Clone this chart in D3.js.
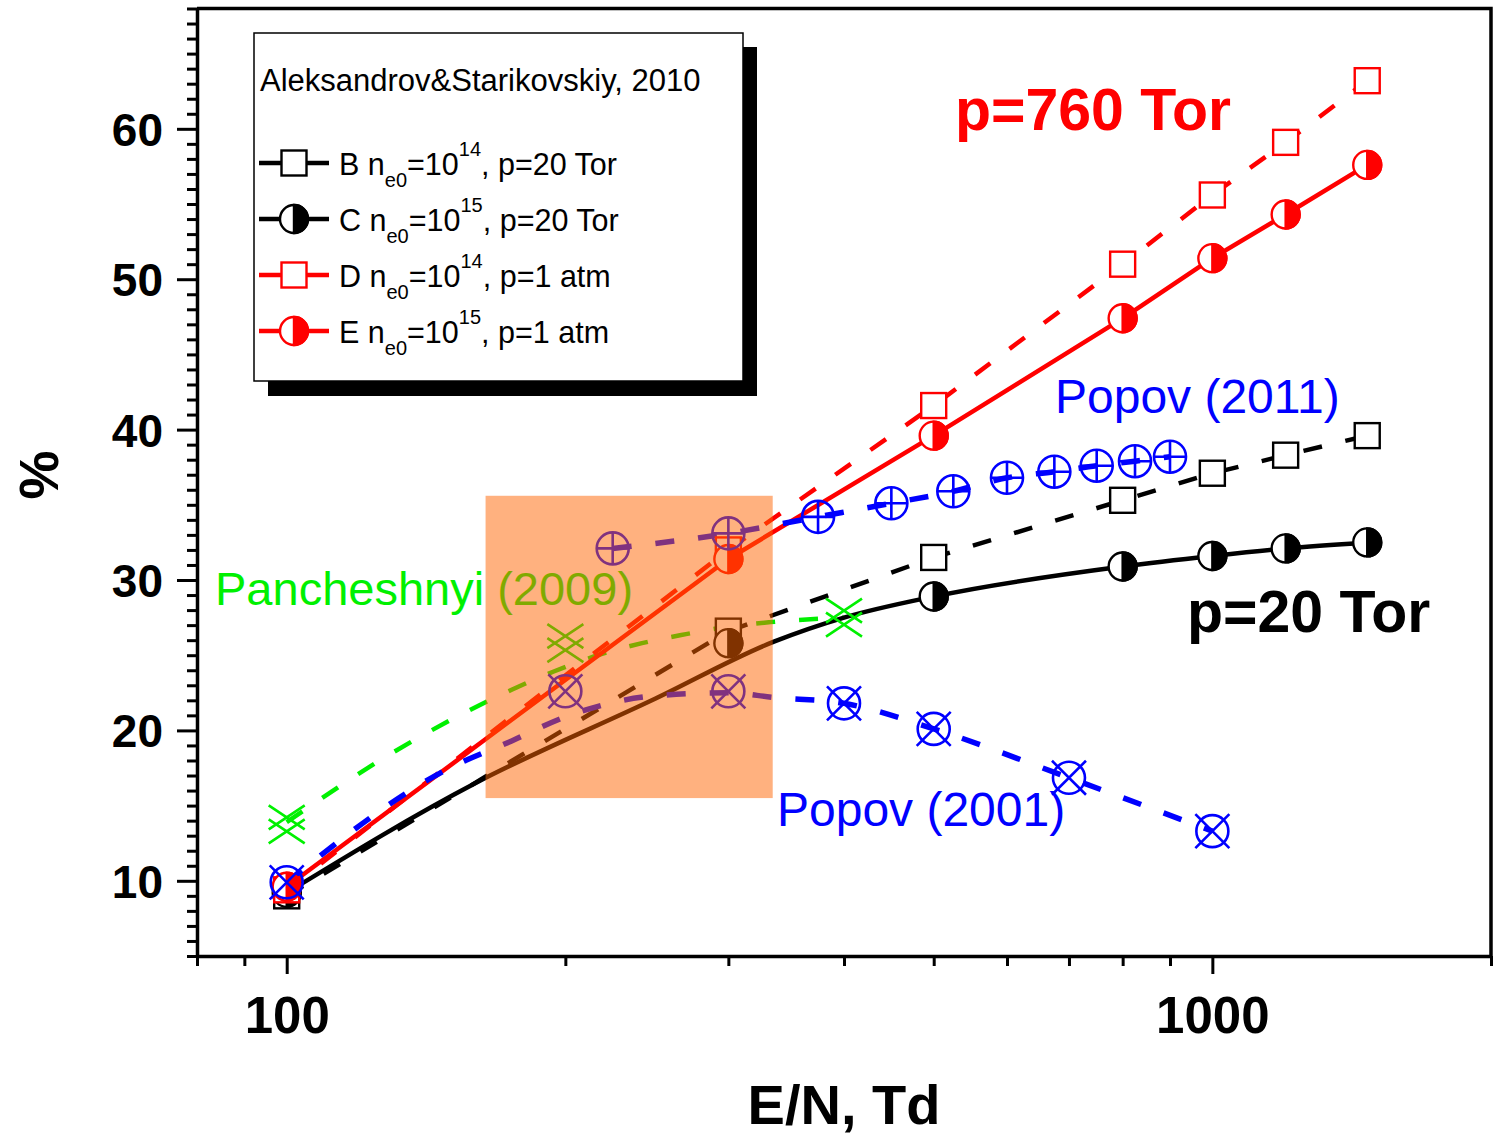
<!DOCTYPE html>
<html>
<head>
<meta charset="utf-8">
<script src="https://cdn.jsdelivr.net/npm/d3@7"></script>
<style>
  html, body { margin: 0; padding: 0; background: #fff; }
  svg { display: block; font-family: "Liberation Sans", Arial, sans-serif; }
</style>
</head>
<body>
<svg id="chart" width="1493" height="1138"></svg>
<script>
// ---------------- DATA ----------------
// Aleksandrov & Starikovskiy 2010 (E/N in Td, value in %)
const asEN      = [100, 300, 500, 800, 1000, 1200, 1470];
const seriesB   = [9.0, 26.6, 31.5, 35.3, 37.1, 38.3, 39.6];   // n_e0=1e14, 20 Tor
const seriesC   = [9.2, 25.8, 28.9, 30.9, 31.6, 32.1, 32.5];   // n_e0=1e15, 20 Tor
const seriesD   = [9.4, 32.0, 41.6, 51.0, 55.6, 59.1, 63.2];   // n_e0=1e14, 1 atm
const seriesE   = [9.6, 31.4, 39.6, 47.4, 51.4, 54.3, 57.6];   // n_e0=1e15, 1 atm
// smoothed curve drawn for series C
const curveC_EN = [100, 160, 250, 336, 400, 500, 800, 1000, 1200, 1470];
const curveC    = [9.2, 16.5, 22.1, 25.9, 27.5, 28.9, 30.9, 31.6, 32.1, 32.5];

// Popov (2011)
const popov2011EN = [225, 300, 375, 450, 525, 600, 675, 750, 825, 900];
const popov2011   = [32.1, 33.1, 34.2, 35.1, 35.9, 36.8, 37.2, 37.6, 37.9, 38.2];

// Popov (2001)
const popov2001EN = [100, 200, 300, 400, 500, 700, 1000];
const popov2001   = [9.9, 22.6, 22.6, 21.8, 20.1, 16.85, 13.3];
const popov2001CurveEN = [100, 150, 175, 200, 250, 300, 335, 400, 500, 700, 1000];
const popov2001Curve   = [9.9, 17.5, 19.3, 20.9, 22.3, 22.5, 22.2, 21.8, 20.1, 16.85, 13.3];

// Pancheshnyi (2009)
const panchEN = [100, 200, 400];
const panch   = [13.75, 25.8, 27.5];
const panchCurveEN = [100, 130, 175, 194, 217, 242, 270, 300, 333, 400];
const panchCurve   = [13.9, 18.5, 22.7, 23.9, 25.0, 25.8, 26.4, 26.9, 27.2, 27.5];

// highlighted region (E/N range, % range)
const regionEN  = [164, 335];
const regionPct = [15.5, 35.6];

// axes ticks
const xTickValues = [80, 90, 100, 200, 300, 400, 500, 600, 700, 800, 900, 1000, 2000];
const xTickLabels = [100, 1000];
const yTickValues = d3.range(5, 69);
const yTickLabels = [10, 20, 30, 40, 50, 60];

// legend
const legendTitle = "Aleksandrov&Starikovskiy, 2010";
const legendRows = [
  {letter: "B", exp: "14", tail: ", p=20 Tor", color: "#000", dashed: true,  marker: "square"},
  {letter: "C", exp: "15", tail: ", p=20 Tor", color: "#000", dashed: false, marker: "half"},
  {letter: "D", exp: "14", tail: ", p=1 atm",  color: "#f00", dashed: true,  marker: "square"},
  {letter: "E", exp: "15", tail: ", p=1 atm",  color: "#f00", dashed: false, marker: "half"}
];

// ---------------- CHART ----------------
const svg = d3.select("#chart");
const FONT = '"Liberation Sans", Arial, sans-serif';
const GREEN = "#00f000";
const L = 197, R = 1491, T = 8.5, B = 956;

const x = d3.scaleLog().domain([80, 2000]).range([L, R]);
const y = d3.scaleLinear().domain([5, 68]).range([B, T]);

const zip = (xs, ys) => xs.map((v, i) => ({x: v, y: ys[i]}));

const gData = svg.append("g");

function drawLine(pts, color, dashed, curve, width) {
  const line = d3.line().x(d => x(d.x)).y(d => y(d.y)).curve(curve || d3.curveLinear);
  gData.append("path").datum(pts)
    .attr("d", line)
    .attr("fill", "none")
    .attr("stroke", color)
    .attr("stroke-width", width || 4.5)
    .attr("stroke-dasharray", dashed ? "19,24" : null)
    .attr("stroke-linejoin", "round");
}

function markerSquare(g, cx, cy, color) {
  g.append("rect").attr("x", cx - 12.5).attr("y", cy - 12.5)
    .attr("width", 25).attr("height", 25)
    .attr("fill", "#fff").attr("stroke", color).attr("stroke-width", 2.4);
}
function markerHalf(g, cx, cy, color) {
  const r = 14;
  g.append("circle").attr("cx", cx).attr("cy", cy).attr("r", r)
    .attr("fill", "#fff").attr("stroke", color).attr("stroke-width", 2.4);
  g.append("path")
    .attr("d", `M${cx},${cy - r} A${r},${r} 0 0 1 ${cx},${cy + r} Z`)
    .attr("fill", color).attr("stroke", color).attr("stroke-width", 2.4);
}
function markerOplus(g, cx, cy, color) {
  const r = 16;
  g.append("circle").attr("cx", cx).attr("cy", cy).attr("r", r)
    .attr("fill", "none").attr("stroke", color).attr("stroke-width", 2.6);
  g.append("path")
    .attr("d", `M${cx - r},${cy} H${cx + r} M${cx},${cy - r} V${cy + r}`)
    .attr("stroke", color).attr("stroke-width", 2.6);
}
function markerOtimes(g, cx, cy, color) {
  const r = 16, k = 17;
  g.append("circle").attr("cx", cx).attr("cy", cy).attr("r", r)
    .attr("fill", "none").attr("stroke", color).attr("stroke-width", 2.6);
  g.append("path")
    .attr("d", `M${cx - k},${cy - k} L${cx + k},${cy + k} M${cx - k},${cy + k} L${cx + k},${cy - k}`)
    .attr("stroke", color).attr("stroke-width", 2.6);
}
function markerDoubleX(g, cx, cy, color) {
  const w = 18, h = 12, off = 7;
  let d = "";
  [-off, off].forEach(o => {
    d += `M${cx - w},${cy + o - h} L${cx + w},${cy + o + h} M${cx - w},${cy + o + h} L${cx + w},${cy + o - h} `;
  });
  g.append("path").attr("d", d).attr("fill", "none")
    .attr("stroke", color).attr("stroke-width", 2.6);
}

// ---- lines ----
drawLine(zip(panchCurveEN, panchCurve), GREEN, true, d3.curveMonotoneX, 4.5);
drawLine(zip(asEN, seriesB), "#000", true, d3.curveLinear, 4.5);
drawLine(zip(curveC_EN, curveC), "#000", false, d3.curveMonotoneX, 4.5);
drawLine(zip(asEN, seriesD), "#f00", true, d3.curveLinear, 4.5);
drawLine(zip(asEN, seriesE), "#f00", false, d3.curveLinear, 4.5);
drawLine(zip(popov2011EN, popov2011), "#0000ff", true, d3.curveMonotoneX, 5.5);
drawLine(zip(popov2001CurveEN, popov2001Curve), "#0000ff", true, d3.curveMonotoneX, 5.5);

// ---- markers ----
const gm = gData.append("g");
zip(asEN, seriesB).forEach(d => markerSquare(gm, x(d.x), y(d.y), "#000"));
zip(asEN, seriesC).forEach(d => markerHalf(gm, x(d.x), y(d.y), "#000"));
zip(asEN, seriesD).forEach(d => markerSquare(gm, x(d.x), y(d.y), "#f00"));
zip(asEN, seriesE).forEach(d => markerHalf(gm, x(d.x), y(d.y), "#f00"));
zip(panchEN, panch).forEach(d => markerDoubleX(gm, x(d.x), y(d.y), GREEN));
zip(popov2011EN, popov2011).forEach(d => markerOplus(gm, x(d.x), y(d.y), "#0000ff"));
zip(popov2001EN, popov2001).forEach(d => markerOtimes(gm, x(d.x), y(d.y), "#0000ff"));

// ---- annotations ----
const ann = svg.append("g").attr("font-family", FONT);
ann.append("text").attr("x", 955).attr("y", 130).attr("font-size", 59).attr("font-weight", "bold")
  .attr("fill", "#f00").text("p=760 Tor");
ann.append("text").attr("x", 1187).attr("y", 632).attr("font-size", 59).attr("font-weight", "bold")
  .attr("fill", "#000").text("p=20 Tor");
ann.append("text").attr("x", 1055).attr("y", 413).attr("font-size", 48)
  .attr("fill", "#0000ff").text("Popov (2011)");
ann.append("text").attr("x", 777).attr("y", 826).attr("font-size", 48)
  .attr("fill", "#0000ff").text("Popov (2001)");
ann.append("text").attr("x", 215).attr("y", 605).attr("font-size", 47)
  .attr("fill", GREEN).text("Pancheshnyi (2009)");

// ---- highlight overlay ----
svg.append("rect")
  .attr("x", x(regionEN[0])).attr("y", y(regionPct[1]))
  .attr("width", x(regionEN[1]) - x(regionEN[0]))
  .attr("height", y(regionPct[0]) - y(regionPct[1]))
  .attr("fill", "rgb(255,100,0)").attr("fill-opacity", 0.5);

// ---- axes ----
const xAxis = d3.axisBottom(x).tickValues(xTickValues)
  .tickFormat(d => xTickLabels.includes(d) ? d : "")
  .tickSizeInner(10).tickSizeOuter(0);
const gx = svg.append("g").attr("transform", `translate(0,${B})`).call(xAxis);
gx.select(".domain").attr("stroke-width", 3.5);
gx.selectAll(".tick line").attr("stroke-width", 3)
  .attr("y2", d => xTickLabels.includes(d) ? 18 : 10);
gx.selectAll(".tick text").attr("font-family", FONT).attr("font-size", 51)
  .attr("font-weight", "bold").attr("fill", "#000").attr("dy", 0).attr("y", 77);

const yAxis = d3.axisLeft(y).tickValues(yTickValues)
  .tickFormat(d => yTickLabels.includes(d) ? d : "")
  .tickSizeInner(10).tickSizeOuter(0);
const gy = svg.append("g").attr("transform", `translate(${L},0)`).call(yAxis);
gy.select(".domain").attr("stroke-width", 3.5);
gy.selectAll(".tick line").attr("stroke-width", 3)
  .attr("x2", d => yTickLabels.includes(d) ? -20 : -10);
gy.selectAll(".tick text").attr("font-family", FONT).attr("font-size", 46)
  .attr("font-weight", "bold").attr("fill", "#000").attr("x", -34).attr("dy", "0.36em");

// top & right frame
svg.append("path").attr("d", `M${L},${T} H${R} V${B}`)
  .attr("fill", "none").attr("stroke", "#000").attr("stroke-width", 3.5);

// axis titles
svg.append("text").attr("x", 844).attr("y", 1124).attr("text-anchor", "middle")
  .attr("font-family", FONT).attr("font-size", 56).attr("font-weight", "bold").text("E/N, Td");
svg.append("text").attr("transform", "translate(58,475) rotate(-90)").attr("text-anchor", "middle")
  .attr("font-family", FONT).attr("font-size", 55).attr("font-weight", "bold").text("%");

// ---- legend ----
const lg = svg.append("g").attr("font-family", FONT);
lg.append("rect").attr("x", 268).attr("y", 47).attr("width", 489).attr("height", 349).attr("fill", "#000");
lg.append("rect").attr("x", 254).attr("y", 33).attr("width", 489).attr("height", 348)
  .attr("fill", "#fff").attr("stroke", "#000").attr("stroke-width", 1.5);
lg.append("text").attr("x", 260).attr("y", 91).attr("font-size", 31).text(legendTitle);

legendRows.forEach((r, i) => {
  const cy = 163 + i * 56;
  if (r.dashed) {
    lg.append("path").attr("d", `M259,${cy} H281 M307,${cy} H329`)
      .attr("stroke", r.color).attr("stroke-width", 4.5);
  } else {
    lg.append("path").attr("d", `M259,${cy} H329`).attr("stroke", r.color).attr("stroke-width", 4.5);
  }
  if (r.marker === "square") markerSquare(lg, 294, cy, r.color);
  else markerHalf(lg, 294, cy, r.color);
  const t = lg.append("text").attr("x", 339).attr("y", cy + 12).attr("font-size", 30.5).attr("fill", "#000");
  t.append("tspan").text(`${r.letter} n`);
  t.append("tspan").attr("font-size", 20).attr("dy", 12).text("e0");
  t.append("tspan").attr("dy", -12).text("=10");
  t.append("tspan").attr("font-size", 20).attr("dy", -19).text(r.exp);
  t.append("tspan").attr("dy", 19).text(r.tail);
});
</script>
</body>
</html>
